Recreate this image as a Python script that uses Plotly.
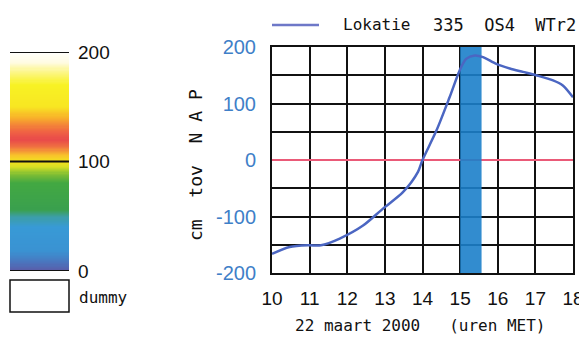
import plotly.graph_objects as go

# ---- data ----
hours = [10.0, 10.47, 10.97, 11.3, 11.8, 12.42, 12.95, 13.48, 13.88, 14.0, 14.37,
         14.72, 14.99, 15.16, 15.39, 15.61, 15.96, 16.32, 16.67, 17.02, 17.47, 17.73, 18.0]
level = [-166, -154, -151, -151, -139, -116, -86, -57, -21, 0, 52,
         111, 159, 179, 185, 182, 170, 162, 156, 150, 141, 132, 111]
band_hours = [15.0, 15.57]
x_ticks = [10, 11, 12, 13, 14, 15, 16, 17, 18]
y_ticks = [-200, -150, -100, -50, 0, 50, 100, 150, 200]
y_ticklabels = ["-200", "", "-100", "", "0", "", "100", "", "200"]
scale_values = [v + 0.5 for v in range(200)]
scale_ticks = [0, 100, 200]
scale_ticklabels = ["0", "100", "200"]
legend_name = "Lokatie"
location_text = "335\u00a0\u00a0OS4\u00a0\u00a0WTr2"
x_title = "22 maart 2000\u00a0\u00a0\u00a0(uren MET)"
y_title = "cm\u00a0\u00a0tov\u00a0\u00a0N\u00a0A\u00a0P"

OFF = 8  # page body margin
W, H = 587, 337

def px(x):
    return (x - OFF) / W

def py(y):
    return 1 - (y - OFF) / H

MONO = "DejaVu Sans Mono"
NARROW = "Liberation Sans Narrow, Liberation Sans, Arial"

scale_colors = [
    [0.00, "#5b5aa6"],
    [0.04, "#4a76be"],
    [0.09, "#3a92d2"],
    [0.20, "#389ad6"],
    [0.245, "#3c9ea8"],
    [0.28, "#3aa04e"],
    [0.40, "#42a842"],
    [0.44, "#7cbc34"],
    [0.475, "#d6e024"],
    [0.50, "#f2e020"],
    [0.53, "#f8c02c"],
    [0.565, "#f07240"],
    [0.60, "#e84a4a"],
    [0.64, "#f06642"],
    [0.70, "#f8b02a"],
    [0.75, "#f8e622"],
    [0.85, "#f8f224"],
    [0.91, "#fcf68a"],
    [0.95, "#fffbe0"],
    [1.00, "#ffffff"],
]

fig = go.Figure()

# colour scale bar (left)
fig.add_trace(go.Heatmap(
    x=[0], y=scale_values, z=[[v] for v in scale_values],
    zmin=0, zmax=200, colorscale=scale_colors, showscale=False,
    xaxis="x2", yaxis="y2", hoverinfo="skip",
))

# band
fig.add_trace(go.Scatter(
    x=[band_hours[0], band_hours[1], band_hours[1], band_hours[0], band_hours[0]],
    y=[-200, -200, 200, 200, -200],
    fill="toself", fillcolor="rgba(28,128,202,0.9)", line=dict(width=0),
    mode="lines", showlegend=False, hoverinfo="skip",
))

# water level curve
fig.add_trace(go.Scatter(
    x=hours, y=level, mode="lines", name=legend_name,
    line=dict(color="#4b66c2", width=2.5, shape="spline", smoothing=0.8),
    showlegend=False,
))

fig.update_layout(
    width=W, height=H,
    margin=dict(l=0, r=0, t=0, b=0, pad=0, autoexpand=False),
    paper_bgcolor="white", plot_bgcolor="white",
    showlegend=False,
    xaxis=dict(
        domain=[px(272), px(573)], range=[10, 18],
        tickvals=x_ticks, ticktext=[str(t) for t in x_ticks],
        showgrid=True, gridcolor="#111111", gridwidth=1.5,
        showline=True, linecolor="#111111", linewidth=2, mirror=True,
        ticks="", tickfont=dict(family=NARROW, size=19, color="#111111"),
        zeroline=False, anchor="y", ticklabelstandoff=7, automargin=False,
    ),
    yaxis=dict(
        domain=[py(273), py(47)], range=[-200, 200],
        tickvals=y_ticks, ticktext=y_ticklabels,
        showgrid=True, gridcolor="#111111", gridwidth=1.5,
        showline=True, linecolor="#111111", linewidth=2, mirror=True,
        ticks="", tickfont=dict(family=NARROW, size=20, color="#3f7fc8"),
        zeroline=True, zerolinecolor="#ea5a78", zerolinewidth=2,
        anchor="x", ticklabelstandoff=10, automargin=False,
    ),
    xaxis2=dict(
        domain=[px(10), px(69)], range=[-0.5, 0.5],
        visible=False, anchor="y2", automargin=False,
    ),
    yaxis2=dict(
        domain=[py(271), py(52)], range=[0, 200],
        side="right", anchor="x2",
        tickvals=scale_ticks, ticktext=scale_ticklabels,
        ticks="", showgrid=False, zeroline=False, showline=False,
        tickfont=dict(family=NARROW, size=19, color="#111111"),
        ticklabelstandoff=8, automargin=False,
    ),
)

# black lines on the colour bar
for v in scale_ticks:
    fig.add_shape(type="line", xref="x2 domain", yref="y2",
                  x0=0, x1=1, y0=v, y1=v,
                  line=dict(color="#111111", width=2))

# dummy box
fig.add_shape(type="rect", xref="paper", yref="paper",
              x0=px(10), x1=px(69), y0=py(312), y1=py(280),
              line=dict(color="#111111", width=1.5), fillcolor="white")
fig.add_annotation(text="dummy", xref="paper", yref="paper",
                   x=px(77), y=py(297), xanchor="left", yanchor="middle",
                   showarrow=False, font=dict(family=MONO, size=16, color="#111111"))

# legend line + texts
fig.add_shape(type="line", xref="paper", yref="paper",
              x0=px(272), x1=px(319), y0=py(25), y1=py(25),
              line=dict(color="#6e78c8", width=2.5))
fig.add_annotation(text=legend_name, xref="paper", yref="paper",
                   x=px(341), y=py(25), xanchor="left", yanchor="middle",
                   showarrow=False, font=dict(family=MONO, size=16, color="#111111"))
fig.add_annotation(text=location_text, xref="paper", yref="paper",
                   x=px(578), y=py(25), xanchor="right", yanchor="middle",
                   showarrow=False, font=dict(family=MONO, size=17, color="#111111"))

# axis titles
fig.add_annotation(text=x_title, xref="paper", yref="paper",
                   x=px(420), y=py(325), xanchor="center", yanchor="middle",
                   showarrow=False, font=dict(family=MONO, size=16, color="#111111"))
fig.add_annotation(text=y_title, xref="paper", yref="paper",
                   x=px(195), y=py(165), xanchor="center", yanchor="middle",
                   textangle=-90, showarrow=False,
                   font=dict(family=MONO, size=18, color="#111111"))

fig.write_html("out.html")
